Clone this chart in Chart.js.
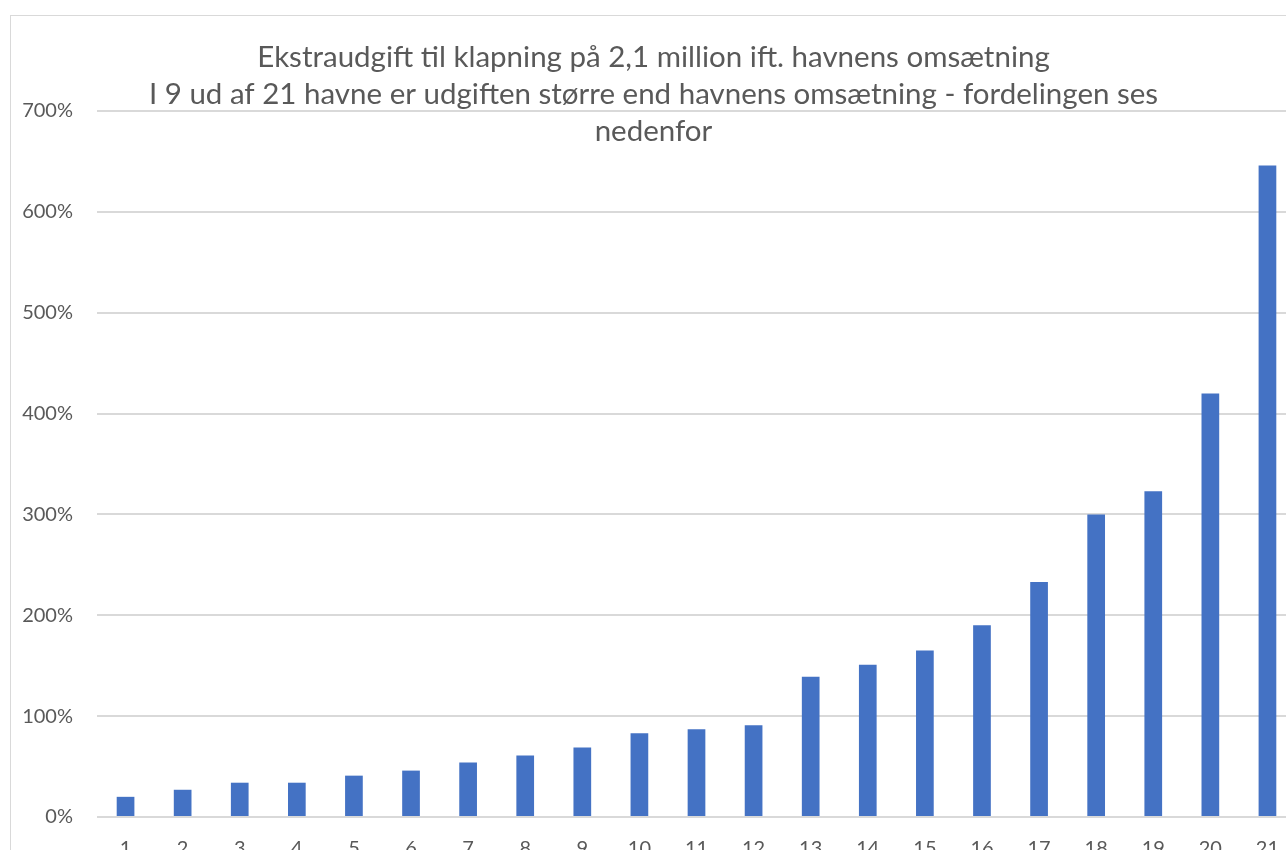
<!DOCTYPE html>
<html lang="da">
<head>
  <meta charset="UTF-8" />
  <title>Ekstraudgift til klapning</title>
  <script src="https://cdn.jsdelivr.net/npm/chart.js"></script>
  <style>
    html, body {
      margin: 0;
      padding: 0;
      background: #fff;
      overflow: hidden;
      width: 1286px;
      height: 850px;
    }

    #chart-frame {
      position: absolute;
      left: 10px;
      top: 15px;
      width: 1300px;
      height: 880px;
      border: 1px solid #d9d9d9;
      box-sizing: content-box;
    }

    canvas {
      display: block;
    }
  </style>
</head>
<body>
  <div id="chart-frame">
    <canvas id="myChart"></canvas>
  </div>

  <script>
    const havne = ['1', '2', '3', '4', '5', '6', '7', '8', '9', '10', '11',
                   '12', '13', '14', '15', '16', '17', '18', '19', '20', '21'];
    // udgift i procent af omsætning
    const andel = [20, 27, 34, 34, 41, 46, 54, 61, 69, 83, 87,
                   91, 139, 151, 165, 190, 233, 300, 323, 420, 646];
    const titel = [
      'Ekstraudgift til klapning på 2,1 million ift. havnens omsætning',
      'I 9 ud af 21 havne er udgiften større end havnens omsætning - fordelingen ses',
      'nedenfor'
    ];
    const yTicks = [0, 100, 200, 300, 400, 500, 600, 700];

    const textColor = '#595959';
    const gridColor = '#d9d9d9';

    new Chart(document.getElementById('myChart').getContext('2d'), {
      type: 'bar',
      data: {
        labels: havne,
        datasets: [{
          data: andel,
          backgroundColor: '#4472c4',
          borderWidth: 0,
          categoryPercentage: 1,
          barPercentage: 0.31
        }]
      },
      options: {
        responsive: true,
        maintainAspectRatio: false,
        animation: false,
        layout: { padding: { left: 0, right: 15, top: 0, bottom: 0 } },
        plugins: {
          legend: { display: false },
          tooltip: { enabled: false },
          title: {
            display: true,
            text: titel,
            color: textColor,
            font: { family: 'Lato', size: 29.5, weight: 'normal', lineHeight: 1.254 },
            padding: { top: 23, bottom: -39 }
          }
        },
        scales: {
          x: {
            grid: { display: false },
            border: { display: false },
            ticks: {
              color: textColor,
              font: { family: 'Lato', size: 20 },
              padding: 12,
              maxRotation: 0
            },
            afterFit: s => { s.height = 79; }
          },
          y: {
            min: 0,
            max: 700,
            afterBuildTicks: s => { s.ticks = yTicks.map(v => ({ value: v })); },
            grid: { color: gridColor, lineWidth: 2, drawTicks: false },
            border: { display: false },
            ticks: {
              color: textColor,
              font: { family: 'Lato', size: 20 },
              padding: 24,
              callback: v => v + '%'
            },
            afterFit: s => { s.width = 86; }
          }
        }
      }
    });
  </script>
</body>
</html>
